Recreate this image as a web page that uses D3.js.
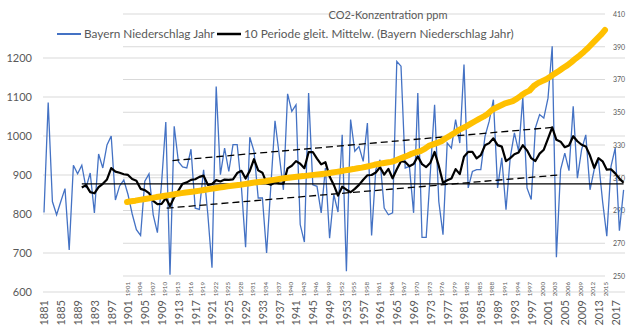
<!DOCTYPE html>
<html>
<head>
<meta charset="utf-8">
<title>Niederschlag Bayern und CO2</title>
<script src="https://d3js.org/d3.v7.min.js"></script>
<style>
  body { margin: 0; background: #fff; }
  svg text { font-family: Lato, "Open Sans", sans-serif; fill: #595959; }
  .grid line { stroke: #d9d9d9; stroke-width: 1; }
</style>
</head>
<body>
<svg width="640" height="332"></svg>
<script>
// Jahresniederschlag Bayern (mm), 1881-2019
const rainStart = 1881;
const rain = [
  804, 1086, 832, 798, 832, 865, 708, 925, 903, 925,
  867, 905, 803, 954, 918, 977, 1000, 836, 872, 887,
  850, 800, 760, 745, 884, 903, 798, 752, 880, 1036,
  644, 1025, 934, 921, 918, 966, 815, 812, 913, 800,
  662, 1127, 901, 969, 909, 978, 978, 870, 715, 997,
  961, 841, 841, 700, 870, 1039, 952, 862, 1108, 1063,
  1080, 773, 728, 1110, 875, 871, 803, 918, 738, 850,
  805, 1003, 653, 1042, 961, 973, 935, 1033, 745, 914,
  939, 815, 798, 803, 1191, 1179, 918, 922, 803, 1110,
  740, 740, 909, 1080, 832, 747, 982, 969, 1042, 982,
  1183, 867, 909, 914, 914, 999, 1038, 1093, 867, 944,
  811, 944, 1008, 961, 1099, 867, 837, 1021, 1055, 1046,
  1097, 1230, 689, 914, 956, 911, 1076, 892, 965, 1003,
  862, 914, 939, 832, 743, 922, 969, 757, 862
];

// CO2-Konzentration (ppm), 1901-2015
const co2Start = 1901;
const co2 = [
  295.2, 295.6, 296.0, 296.5, 296.9, 297.3, 297.7, 298.2, 298.6, 299.0,
  299.4, 299.8, 300.2, 300.6, 301.0, 301.3, 301.6, 302.0, 302.4, 302.8,
  303.2, 303.6, 304.0, 304.4, 304.8, 305.1, 305.4, 305.7, 306.1, 306.5,
  306.9, 307.3, 307.6, 307.9, 308.3, 308.7, 309.1, 309.5, 309.9, 310.2,
  310.5, 310.8, 311.0, 311.3, 311.6, 311.9, 312.2, 312.5, 312.8, 313.2,
  313.6, 314.0, 314.5, 314.9, 315.3, 315.8, 316.2, 316.7, 317.3, 317.9,
  318.4, 318.9, 319.3, 319.7, 320.5, 321.6, 322.6, 323.6, 324.8, 325.6,
  326.3, 327.6, 329.5, 330.4, 331.3, 332.3, 334.1, 335.6, 337.2, 338.9,
  340.3, 341.5, 343.0, 344.5, 346.0, 347.3, 349.0, 351.3, 352.8, 354.0,
  355.2, 356.0, 356.8, 358.3, 360.2, 362.0, 363.2, 366.0, 367.8, 369.0,
  370.2, 371.8, 373.6, 375.2, 377.0, 378.6, 380.6, 382.8, 384.8, 387.0,
  389.4, 392.0, 394.6, 397.2, 400.2
];

const rainTicks = [600, 700, 800, 900, 1000, 1100, 1200];
const co2Ticks = [250, 270, 290, 310, 330, 350, 370, 390, 410];

// Mittelwert-Linie und Trendkanal (Jahr, mm)
const meanLevel = [[1890, 877], [2019, 877]];
const channelTop = [[1911.6, 937], [2002, 1022]];
const channelBottom = [[1910.2, 815], [2003.5, 900]];

const rainYears = rain.map((d, i) => rainStart + i);
const co2Years = co2.map((d, i) => co2Start + i);
const rainLabelYears = rainYears.filter((d, i) => i % 4 === 0);
const co2LabelYears = co2Years.filter((d, i) => i % 3 === 0);

// gleitender Mittelwert über 10 Perioden
const movingAvg = rain.map((d, i) => i < 9 ? null : d3.mean(rain.slice(i - 9, i + 1)));

const svg = d3.select("svg");

// Skalen Niederschlag
const x1 = d3.scaleLinear().domain([1881, 2019]).range([44, 623.6]);
const y1 = d3.scaleLinear().domain([600, 1200]).range([292, 58]);

// Skalen CO2
const x2 = d3.scaleLinear().domain([1901, 2015]).range([127, 605]);
const y2 = d3.scaleLinear().domain([250, 410]).range([276, 14]);

// Gitterlinien
svg.append("g").attr("class", "grid")
  .selectAll("line").data(rainTicks).enter().append("line")
  .attr("x1", 43).attr("x2", 625)
  .attr("y1", d => y1(d)).attr("y2", d => y1(d));

svg.append("g").attr("class", "grid")
  .selectAll("line").data(co2Ticks).enter().append("line")
  .attr("x1", 123).attr("x2", 605)
  .attr("y1", d => y2(d)).attr("y2", d => y2(d));

// Achsen Niederschlag
const yAxis1 = svg.append("g")
  .attr("transform", "translate(35,0)")
  .call(d3.axisLeft(y1).tickValues(rainTicks).tickFormat(d3.format("d")).tickSize(0).tickPadding(3));
yAxis1.select(".domain").remove();
yAxis1.selectAll("text").style("font-size", "11px");

const xAxis1 = svg.append("g")
  .attr("transform", "translate(0,292)")
  .call(d3.axisBottom(x1).tickValues(rainLabelYears).tickFormat(d3.format("d")).tickSize(0));
xAxis1.select(".domain").remove();
xAxis1.selectAll("text")
  .attr("transform", "rotate(-90)")
  .attr("x", -8).attr("y", 0).attr("dy", "0.35em")
  .attr("text-anchor", "end")
  .style("font-size", "11px");

// Achsen CO2
const yAxis2 = svg.append("g")
  .attr("transform", "translate(611,0)")
  .call(d3.axisRight(y2).tickValues(co2Ticks).tickSize(0).tickPadding(2));
yAxis2.select(".domain").remove();
yAxis2.selectAll("text").style("font-size", "7px");

const xAxis2 = svg.append("g")
  .attr("transform", "translate(0,276)")
  .call(d3.axisBottom(x2).tickValues(co2LabelYears).tickFormat(d3.format("d")).tickSize(0));
xAxis2.select(".domain").remove();
xAxis2.selectAll("text")
  .attr("transform", "rotate(-90)")
  .attr("x", -6).attr("y", 0).attr("dy", "0.35em")
  .attr("text-anchor", "end")
  .style("font-size", "6.2px");

// Linien
const rainLine = d3.line().x((d, i) => x1(rainYears[i])).y(d => y1(d));
const avgLine = d3.line().defined(d => d !== null).x((d, i) => x1(rainYears[i])).y(d => y1(d));
const segLine = d3.line().x(d => x1(d[0])).y(d => y1(d[1]));
const co2Line = d3.line().x((d, i) => x2(co2Years[i])).y(d => y2(d));

svg.append("path").datum(rain)
  .attr("d", rainLine)
  .attr("fill", "none").attr("stroke", "#4472c4").attr("stroke-width", 1.3);

svg.append("path").datum(meanLevel)
  .attr("d", segLine)
  .attr("fill", "none").attr("stroke", "#000").attr("stroke-width", 1.3);

svg.append("path").datum(movingAvg)
  .attr("d", avgLine)
  .attr("fill", "none").attr("stroke", "#000").attr("stroke-width", 2.2)
  .attr("stroke-linejoin", "round");

[channelTop, channelBottom].forEach(seg => {
  svg.append("path").datum(seg)
    .attr("d", segLine)
    .attr("fill", "none").attr("stroke", "#000").attr("stroke-width", 1.3)
    .attr("stroke-dasharray", "7,4");
});

svg.append("path").datum(co2)
  .attr("d", co2Line)
  .attr("fill", "none").attr("stroke", "#ffc000").attr("stroke-width", 6)
  .attr("stroke-linecap", "round").attr("stroke-linejoin", "round");

// Titel CO2-Diagramm
svg.append("text")
  .attr("x", 388).attr("y", 19)
  .attr("text-anchor", "middle")
  .style("font-size", "11px")
  .text("CO2-Konzentration ppm");

// Legende
const legend = [
  { x: 57, color: "#4472c4", width: 2, label: "Bayern Niederschlag Jahr" },
  { x: 217, color: "#000", width: 2.5, label: "10 Periode gleit. Mittelw. (Bayern Niederschlag Jahr)" }
];
const lg = svg.selectAll(".legend").data(legend).enter().append("g")
  .attr("class", "legend")
  .attr("transform", d => `translate(${d.x},34)`);
lg.append("line")
  .attr("x1", 0).attr("x2", 24)
  .attr("stroke", d => d.color).attr("stroke-width", d => d.width);
lg.append("text")
  .attr("x", 27).attr("dy", "0.35em")
  .style("font-size", "11.8px")
  .text(d => d.label);
</script>
</body>
</html>
